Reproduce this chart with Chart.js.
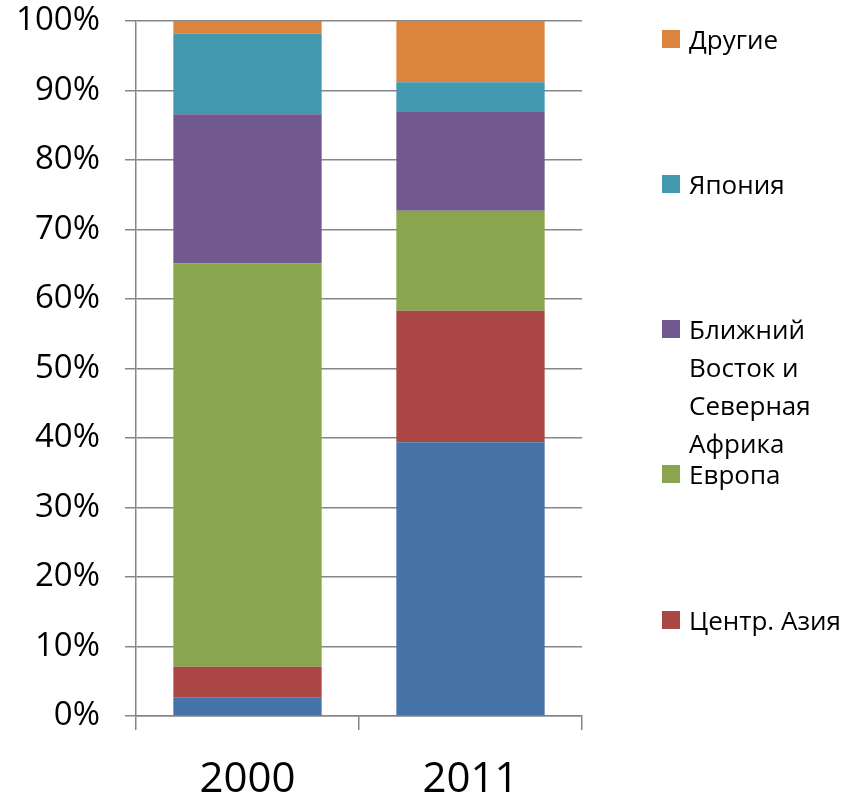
<!DOCTYPE html>
<html>
<head>
<meta charset="utf-8">
<script src="https://cdn.jsdelivr.net/npm/chart.js@4/dist/chart.umd.min.js"></script>
<style>
  html, body { margin: 0; padding: 0; background: #fff; }
  #wrap { position: relative; width: 858px; height: 797px; }
  #c { position: absolute; left: 0; top: 0; }
  #legend { position: absolute; left: 0; top: 0; width: 858px; height: 797px; pointer-events: none;
            font-family: "Open Sans", "Noto Sans", sans-serif; font-size: 26px; color: #000; }
  .li { position: absolute; left: 662px; }
  .li .box { position: absolute; left: 0; width: 18px; height: 18px; }
  .li .txt { position: absolute; left: 27px; width: 170px; line-height: 38px; white-space: normal; }
</style>
</head>
<body>
<div id="wrap">
  <canvas id="c" width="858" height="797"></canvas>
  <div id="legend"></div>
</div>
<script>
// ---- data ----
const categories = ["2000", "2011"];
const seriesNames = ["Китай", "Центр. Азия", "Европа", "Ближний Восток и Северная Африка", "Япония", "Другие"];
const valuesChina    = [2.7, 39.4];
const valuesCAsia    = [4.4, 18.9];
const valuesEurope   = [58.0, 14.4];
const valuesMENA     = [21.5, 14.2];
const valuesJapan    = [11.6, 4.3];
const valuesOther    = [1.8, 8.8];
const yTickValues    = [0, 10, 20, 30, 40, 50, 60, 70, 80, 90, 100];
const legendHidden   = ["Китай"];

const colors = ["#4572A7", "#AA4643", "#89A54E", "#71588F", "#4198AF", "#DB843D"];
const seriesValues = [valuesChina, valuesCAsia, valuesEurope, valuesMENA, valuesJapan, valuesOther];

const datasets = seriesNames.map((n, i) => ({
  label: n,
  data: seriesValues[i],
  backgroundColor: colors[i],
  borderWidth: 0,
  categoryPercentage: 1.0,
  barPercentage: 0.665
}));

const gridColor = "#868686";
const fontFamily = '"Open Sans", "Noto Sans", sans-serif';

const chart = new Chart(document.getElementById('c'), {
  type: 'bar',
  data: { labels: categories, datasets: datasets },
  options: {
    responsive: false,
    animation: false,
    devicePixelRatio: 1,
    layout: { padding: { top: 21, right: 276, left: 0, bottom: 0 } },
    plugins: { legend: { display: false }, tooltip: { enabled: false } },
    scales: {
      x: {
        stacked: true,
        offset: true,
        grid: { offset: true, drawOnChartArea: false, drawTicks: true, tickLength: 14, color: gridColor, lineWidth: 1.5 },
        border: { display: true, color: gridColor, width: 1.5 },
        ticks: { color: "#000", font: { family: fontFamily, size: 42 }, padding: 25, maxRotation: 0 },
        afterFit: s => { s.height = 81; s.paddingLeft = 0; s.paddingRight = 0; }
      },
      y: {
        stacked: true,
        min: 0, max: 100,
        afterBuildTicks: s => { s.ticks = yTickValues.map(v => ({ value: v })); },
        grid: { color: gridColor, lineWidth: 1.5, tickLength: 11, drawTicks: true },
        border: { display: true, color: gridColor, width: 1.5 },
        ticks: { color: "#000", font: { family: fontFamily, size: 33 }, padding: 25, callback: v => v + '%' },
        afterFit: s => { s.width = 136; s.paddingTop = 0; s.paddingBottom = 0; }
      }
    }
  }
});

// ---- legend (reversed, hidden series excluded) ----
const legendEl = document.getElementById('legend');
const items = chart.data.datasets.map((d, i) => ({ label: d.label, color: d.backgroundColor }))
  .filter(it => !legendHidden.includes(it.label)).reverse();
const firstCenter = 38.5, step = 145.3;
items.forEach((it, k) => {
  const cy = firstCenter + k * step;
  const li = document.createElement('div');
  li.className = 'li';
  li.style.top = cy + 'px';
  const box = document.createElement('div');
  box.className = 'box';
  box.style.background = it.color;
  box.style.top = '-9px';
  const txt = document.createElement('div');
  txt.className = 'txt';
  txt.style.top = '-19px';
  txt.textContent = it.label;
  li.appendChild(box); li.appendChild(txt);
  legendEl.appendChild(li);
});
</script>
</body>
</html>
